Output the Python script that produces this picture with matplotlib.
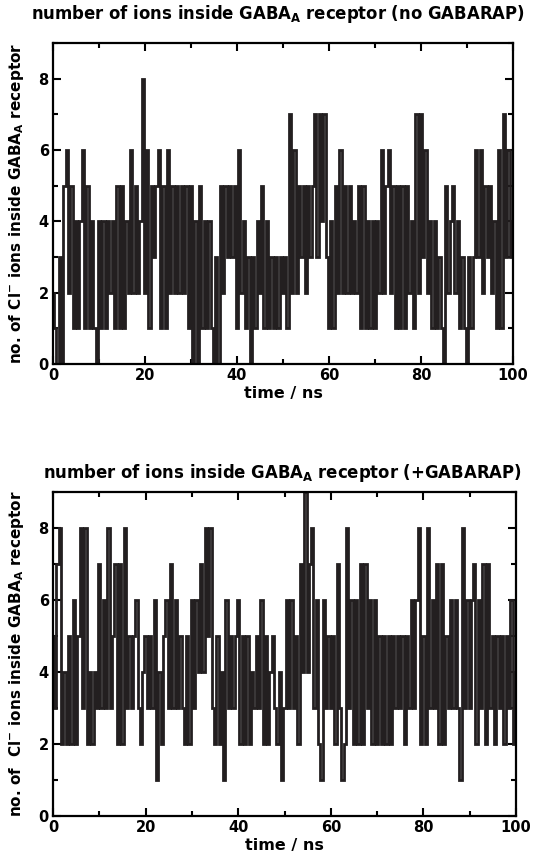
import numpy
import matplotlib
matplotlib.use("Agg")
import matplotlib.pyplot as plt
from matplotlib.ticker import MultipleLocator

plt.rcParams["font.family"] = ["DejaVu Sans"]
plt.rcParams["font.weight"] = "bold"
plt.rcParams["mathtext.fontset"] = "custom"
plt.rcParams["mathtext.rm"] = "DejaVu Sans:bold"
plt.rcParams["mathtext.bf"] = "DejaVu Sans:bold"

# time axis (ns), one sample every 0.5 ns
time_ns = numpy.arange(0, 100.5, 0.5)

# number of Cl- ions inside the pore, no GABARAP
ions_no_gabarap = [
    2, 1, 0, 3, 0, 5, 6, 2, 5, 1, 4, 1, 4, 6, 1, 5, 1, 4, 1, 0,
    4, 1, 4, 1, 4, 2, 4, 1, 5, 1, 5, 1, 4, 2, 6, 2, 5, 2, 4, 8,
    2, 6, 1, 5, 3, 5, 6, 1, 5, 1, 6, 2, 5, 2, 5, 2, 5, 2, 5, 1,
    5, 0, 4, 0, 5, 1, 4, 1, 4, 1, 0, 3, 0, 5, 2, 5, 3, 5, 3, 5,
    1, 6, 2, 4, 1, 3, 0, 3, 1, 4, 2, 5, 1, 4, 1, 3, 1, 3, 1, 3,
    2, 3, 1, 7, 2, 6, 2, 5, 3, 5, 2, 5, 3, 5, 7, 3, 7, 4, 7, 3,
    1, 4, 1, 5, 2, 6, 2, 5, 2, 5, 2, 4, 2, 5, 1, 5, 1, 4, 1, 4,
    1, 4, 2, 6, 2, 5, 6, 2, 5, 1, 5, 1, 5, 1, 5, 2, 4, 1, 7, 2,
    7, 3, 6, 2, 4, 1, 4, 1, 3, 1, 0, 5, 2, 4, 5, 2, 4, 1, 3, 1,
    0, 3, 1, 3, 6, 3, 6, 2, 5, 3, 5, 2, 4, 1, 6, 1, 7, 3, 6, 3,
    4,
]

# number of Cl- ions inside the pore, +GABARAP
ions_gabarap = [
    5, 3, 7, 8, 2, 4, 2, 5, 2, 6, 2, 5, 8, 3, 8, 2, 4, 2, 4, 3,
    7, 3, 6, 3, 8, 3, 5, 7, 2, 7, 2, 8, 3, 5, 3, 5, 6, 3, 2, 4,
    5, 3, 5, 3, 6, 1, 4, 2, 5, 6, 3, 7, 3, 6, 3, 5, 3, 2, 5, 2,
    6, 3, 6, 4, 7, 4, 8, 5, 8, 3, 2, 5, 2, 4, 1, 6, 3, 5, 3, 5,
    6, 2, 5, 2, 5, 2, 4, 3, 5, 3, 6, 2, 5, 2, 4, 5, 3, 2, 4, 1,
    3, 6, 3, 6, 3, 5, 2, 7, 4, 9, 4, 7, 8, 3, 6, 2, 1, 6, 3, 5,
    3, 5, 2, 7, 3, 1, 2, 8, 3, 6, 2, 6, 2, 7, 2, 7, 3, 6, 2, 6,
    2, 5, 2, 5, 2, 5, 2, 5, 3, 5, 3, 5, 2, 5, 3, 6, 3, 6, 8, 2,
    5, 2, 8, 3, 6, 3, 7, 2, 7, 2, 5, 3, 6, 3, 6, 3, 1, 8, 3, 6,
    3, 6, 7, 2, 6, 3, 7, 2, 7, 3, 5, 2, 5, 3, 5, 2, 5, 3, 6, 2,
    4,
]

titles = [r"number of ions inside GABA$_\mathbf{A}$ receptor (no GABARAP)",
          r"number of ions inside GABA$_\mathbf{A}$ receptor (+GABARAP)"]
ylabels = [r"no. of Cl$^\mathbf{-}$ ions inside GABA$_\mathbf{A}$ receptor",
           r"no. of  Cl$^\mathbf{-}$ ions inside GABA$_\mathbf{A}$ receptor"]

fig = plt.figure(figsize=(5.34, 8.56), dpi=100)
ax1 = fig.add_axes([0.0993, 0.5748, 0.8614, 0.375])
ax2 = fig.add_axes([0.0993, 0.0467, 0.8670, 0.3785])

for ax, series, ylab in [(ax1, ions_no_gabarap, ylabels[0]),
                         (ax2, ions_gabarap, ylabels[1])]:
    ax.plot(time_ns, series, color="#231f20", linewidth=2.0,
            drawstyle="steps-mid", solid_joinstyle="miter")
    ax.set_xlim(0, 100)
    ax.set_ylim(0, 9)
    ax.xaxis.set_major_locator(MultipleLocator(20))
    ax.xaxis.set_minor_locator(MultipleLocator(10))
    ax.yaxis.set_major_locator(MultipleLocator(2))
    ax.yaxis.set_minor_locator(MultipleLocator(1))
    ax.tick_params(which="both", direction="in", top=True, right=True,
                   labelsize=10.5, pad=3)
    ax.tick_params(which="major", length=6, width=1.5)
    ax.tick_params(which="minor", length=3.5, width=1.5)
    for sp in ax.spines.values():
        sp.set_linewidth(1.6)
    ax.set_xlabel("time / ns", fontsize=11.5, fontweight="bold", labelpad=2)
    ax.set_ylabel(ylab, fontsize=11, fontweight="bold")
    ax.yaxis.set_label_coords(-0.058, 0.5)

fig.text(0.52, 0.984, titles[0], ha="center", va="center",
         fontsize=11.9, fontweight="bold")
fig.text(0.528, 0.447, titles[1], ha="center", va="center",
         fontsize=11.9, fontweight="bold")

plt.savefig("out.png", dpi=100)
